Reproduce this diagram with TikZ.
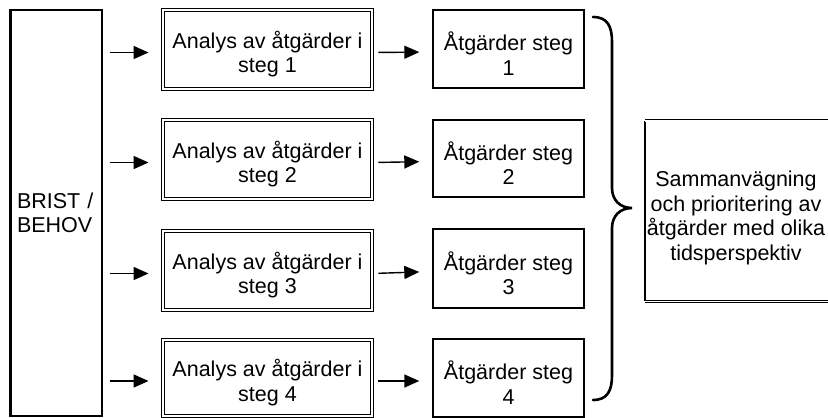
\documentclass[tikz,border=0pt]{standalone}
\usepackage{fontspec}
\setmainfont{Liberation Sans}
\usetikzlibrary{arrows.meta}

\tikzset{
  lbl/.style={font=\fontsize{21.5}{24.5}\selectfont, align=center, inner sep=0pt},
  analysbox/.style={draw, line width=0.9pt, double, double distance=1.4pt,
    minimum width=209pt, inner sep=0pt},
  stegbox/.style={draw, line width=1.4pt, minimum width=151pt, inner sep=0pt},
  arr/.style={line width=1.4pt, -{Triangle[length=15pt,width=13pt]}},
  bracket/.style={line width=2.6pt, line cap=round},
}

\begin{document}
\begin{tikzpicture}[x=1pt,y=-1pt]
\useasboundingbox (0,0) rectangle (828,418);
\clip (0,0) rectangle (828,418);

% need box
\node[lbl, draw, line width=1.2pt, minimum width=91pt, minimum height=406pt,
      text width=79pt, align=left] (brist) at (56.5,213) {BRIST /\\BEHOV};
\draw[line width=2.8pt] (brist.north west) -- (brist.south west);

% analysis boxes
\node[analysbox, minimum height=79pt] (an1) at (267.5,49.5)  {};
\node[analysbox, minimum height=79pt] (an2) at (267.5,159.5) {};
\node[analysbox, minimum height=79pt] (an3) at (267.5,270.5) {};
\node[analysbox, minimum height=76pt] (an4) at (267.5,378)   {};

% measure boxes
\node[stegbox, minimum height=78pt] (st1) at (508.5,49)    {};
\node[stegbox, minimum height=77pt] (st2) at (508.5,158.5) {};
\node[stegbox, minimum height=79pt] (st3) at (508.5,268.5) {};
\node[stegbox, minimum height=78pt] (st4) at (508.5,378)   {};

\foreach \i in {1,2,3,4}{
  % box texts, set slightly below the box centres
  \node[lbl] (an\i txt) at ([yshift=-4.5pt]an\i.center) {Analys av åtgärder i\\steg \i};
  \node[lbl] (st\i txt) at ([yshift=-4.5pt]st\i.center) {Åtgärder steg\\\i};
  % arrows
  \draw[arr, shorten <=7pt, shorten >=14pt]
    ([yshift=-3pt]brist.east |- an\i.west) -- ([yshift=-3pt]an\i.west);
  \draw[arr, shorten <=6pt, shorten >=13pt]
    ([yshift=-3pt]an\i.east) -- ([yshift=-3pt]st\i.west);
}

% summary box
\node[minimum width=186pt, minimum height=180pt, inner sep=0pt] (sum) at (738,211) {};
\draw[line width=2.6pt] (sum.north west) -- (sum.south west);
\draw[line width=0.9pt, double, double distance=1.4pt]
  (sum.north west) -- (sum.north east)
  (sum.south west) -- (sum.south east);
\node[lbl] (sumtxt) at (736,218)
  {Sammanvägning\\och prioritering av\\åtgärder med olika\\tidsperspektiv};

% curly brace
\coordinate (bt) at (593,17);
\coordinate (bm) at (632,208);
\coordinate (bb) at (593,400);
\draw[bracket] (bt) .. controls (608,17) and (612,27) .. (612,42)
  -- (612,188) .. controls (612,200) and (620,208) .. (bm)
  .. controls (620,208) and (612,216) .. (612,228)
  -- (612,375) .. controls (612,390) and (608,400) .. (bb);
\end{tikzpicture}
\end{document}
